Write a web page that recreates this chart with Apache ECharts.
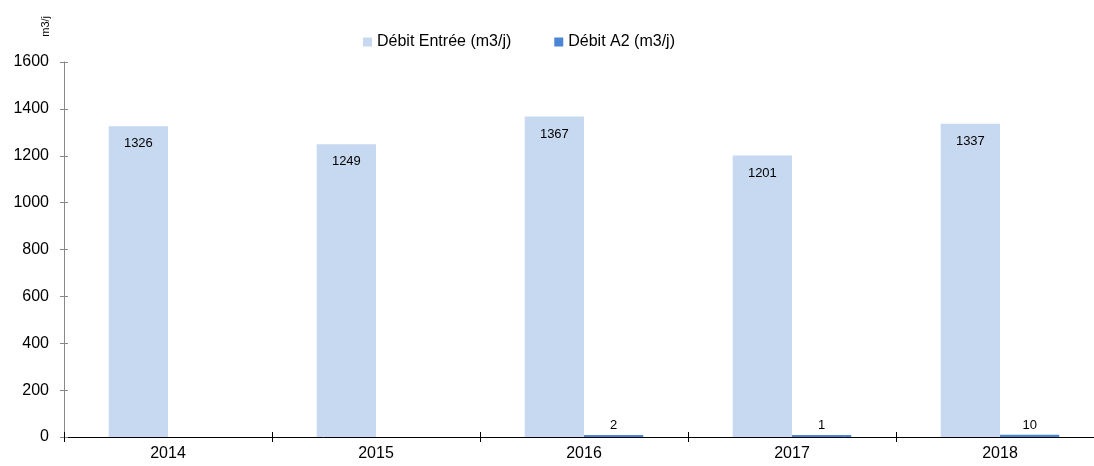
<!DOCTYPE html>
<html><head><meta charset="utf-8">
<script src="https://cdn.jsdelivr.net/npm/echarts@6/dist/echarts.min.js"></script>
<style>html,body{margin:0;padding:0;background:#fff;overflow:hidden}#c{width:1104px;height:466px}</style>
</head><body><div id="c"></div>
<script>
const categories = ['2014','2015','2016','2017','2018'];
const entree = [1326, 1249, 1367, 1201, 1337];
const a2 = [0, 0, 2, 1, 10];
const yTicks = [0, 200, 400, 600, 800, 1000, 1200, 1400, 1600];

const chart = echarts.init(document.getElementById('c'));
const font = 'Liberation Sans, Arial, sans-serif';
chart.setOption({
  animation: false,
  textStyle: {fontFamily: font},
  legend: {
    top: 29, left: 358, itemWidth: 9, itemHeight: 9, itemGap: 43,
    icon: 'rect',
    textStyle: {fontFamily: font, fontSize: 16, color: '#000'},
    data: ['Débit Entrée (m3/j)', 'Débit A2 (m3/j)']
  },
  graphic: [{
    type: 'text', left: 40, top: 16, rotation: Math.PI / 2,
    style: {text: 'm3/j', font: '11px ' + font, fill: '#000'}
  }],
  grid: {left: 64, right: 0, top: 62, bottom: 29},
  xAxis: [{
    type: 'category', data: categories,
    axisLine: {lineStyle: {color: '#000'}},
    axisTick: {show: true, length: 5, lineStyle: {color: '#000'}},
    axisLabel: {fontFamily: font, fontSize: 16, color: '#000', margin: 9}
  },{
    type: 'category', data: categories, position: 'bottom',
    axisLine: {show: false},
    axisTick: {show: true, inside: true, length: 5, lineStyle: {color: '#000'}},
    axisLabel: {show: false}
  }],
  yAxis: [{
    type: 'value', min: yTicks[0], max: yTicks[yTicks.length - 1], interval: 200,
    axisLine: {show: true, lineStyle: {color: '#888'}},
    axisTick: {show: true, length: 4, lineStyle: {color: '#888'}},
    axisLabel: {fontFamily: font, fontSize: 16, color: '#000', margin: 15, formatter: v => String(v)},
    splitLine: {show: false}
  },{
    type: 'value', min: 0, max: 1600, interval: 200, position: 'left',
    axisLine: {show: false},
    axisTick: {show: true, inside: true, length: 4, lineStyle: {color: '#888'}},
    axisLabel: {show: false}, splitLine: {show: false}
  }],
  series: [{
    name: 'Débit Entrée (m3/j)', type: 'bar', data: entree,
    itemStyle: {color: '#c6d9f0'},
    barGap: '0%', barCategoryGap: '43%',
    label: {show: true, position: 'insideTop', distance: 11, fontFamily: font, fontSize: 13, color: '#000'}
  },{
    name: 'Débit A2 (m3/j)', type: 'bar', data: a2.map(v => v === 0 ? '-' : v),
    itemStyle: {color: '#4a86d4'}, barMinHeight: 2,
    label: {show: true, position: 'top', distance: 3, fontFamily: font, fontSize: 13, color: '#000'}
  }]
});
</script></body></html>
